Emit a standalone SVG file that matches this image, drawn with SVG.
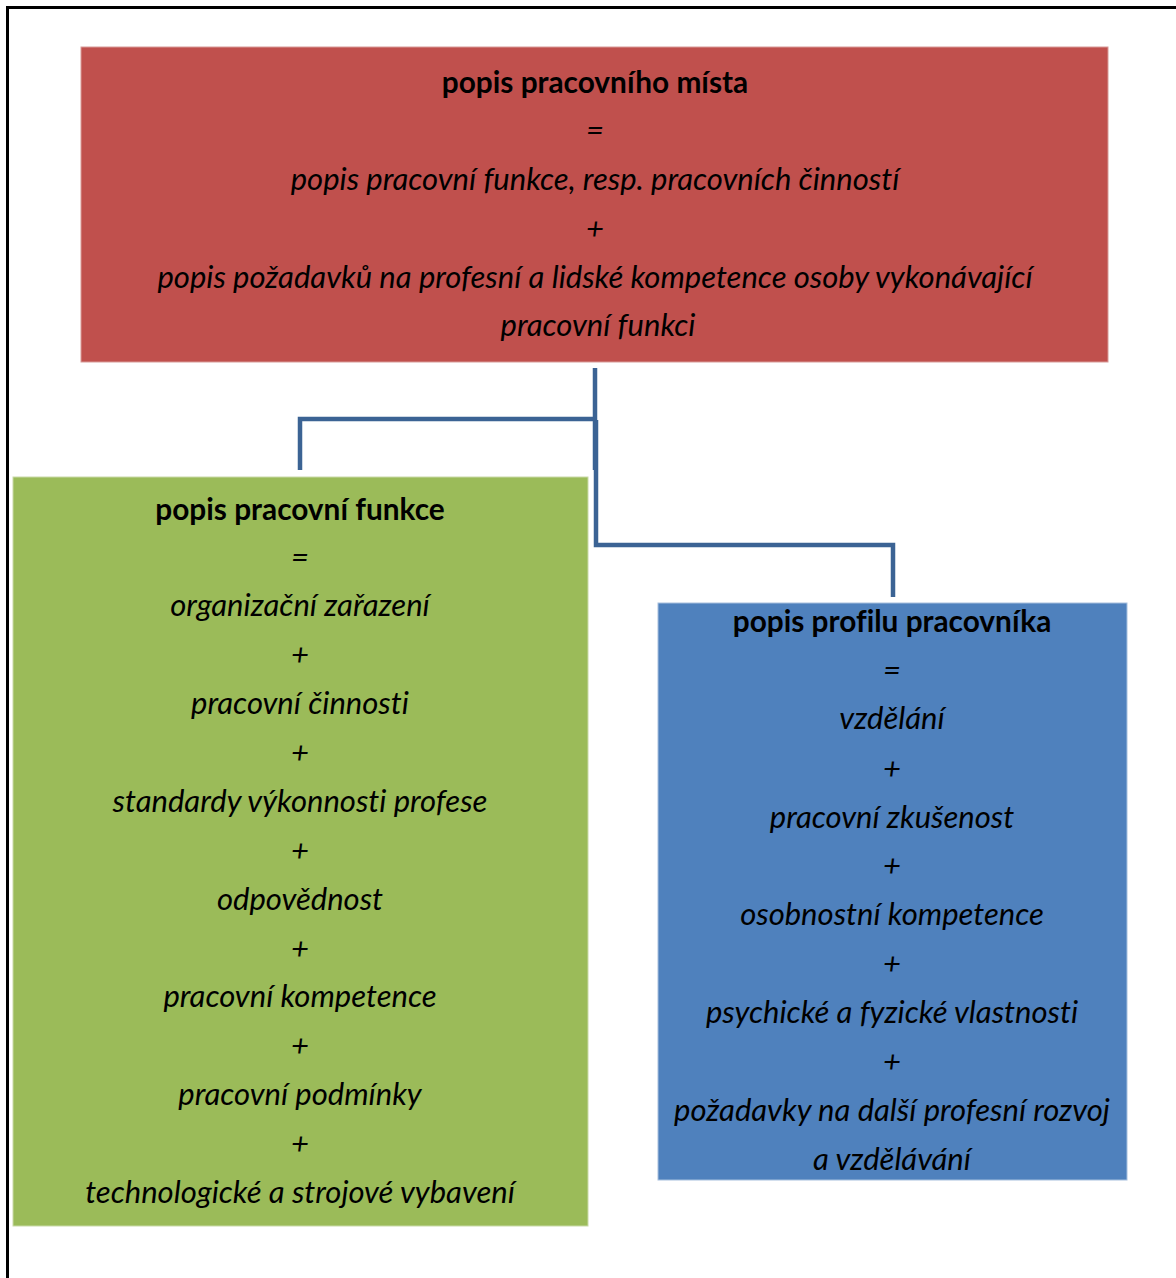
<svg xmlns="http://www.w3.org/2000/svg" width="1176" height="1278" viewBox="0 0 1176 1278">
<style>
text{font-family:Lato,"Open Sans","Liberation Sans",sans-serif;font-size:31px;fill:#000;text-anchor:middle;font-variant-ligatures:none;font-feature-settings:"liga" 0,"clig" 0}
.b{font-weight:bold;font-style:normal;font-size:29.8px}
.i{font-style:italic}
.con{fill:none;stroke:#3B6394;stroke-width:4.5}
</style>
<rect width="1176" height="1278" fill="#fff"/>
<path d="M7.5 1278 V7.5 H1176" fill="none" stroke="#000" stroke-width="3"/>
<g id="connectors">
<path class="con" d="M595 368 V470 M595 419 H300 V470"/>
<path class="con" d="M596 420 V545 H893 V597"/>
</g>
<g id="node-top">
<rect x="81" y="47" width="1027" height="315" fill="#C0504D" stroke="#D89A98" stroke-width="1"/>
<text class="b" x="595" y="93">popis pracovního místa</text>
<text class="i" x="595" y="141">=</text>
<text class="i" x="595" y="190">popis pracovní funkce, resp. pracovních činností</text>
<text class="i" x="595" y="239">+</text>
<text class="i" x="595" y="288">popis požadavků na profesní a lidské kompetence osoby vykonávající</text>
<text class="i" x="598" y="336">pracovní funkci</text>
</g>
<g id="node-left">
<rect x="13" y="477" width="575" height="749" fill="#9BBB59" stroke="#C9DAA8" stroke-width="1"/>
<text class="b" x="300" y="520">popis pracovní funkce</text>
<text class="i" x="300" y="568">=</text>
<text class="i" x="300" y="616">organizační zařazení</text>
<text class="i" x="300" y="665">+</text>
<text class="i" x="300" y="714">pracovní činnosti</text>
<text class="i" x="300" y="763">+</text>
<text class="i" x="300" y="812">standardy výkonnosti profese</text>
<text class="i" x="300" y="861">+</text>
<text class="i" x="300" y="910">odpovědnost</text>
<text class="i" x="300" y="959">+</text>
<text class="i" x="300" y="1007">pracovní kompetence</text>
<text class="i" x="300" y="1056">+</text>
<text class="i" x="300" y="1105">pracovní podmínky</text>
<text class="i" x="300" y="1154">+</text>
<text class="i" x="300" y="1203">technologické a strojové vybavení</text>
</g>
<g id="node-right">
<rect x="658" y="603" width="469" height="577" fill="#4F81BD" stroke="#A7C0DE" stroke-width="1"/>
<text class="b" x="892" y="632">popis profilu pracovníka</text>
<text class="i" x="892" y="681">=</text>
<text class="i" x="892" y="729">vzdělání</text>
<text class="i" x="892" y="779">+</text>
<text class="i" x="892" y="828">pracovní zkušenost</text>
<text class="i" x="892" y="876">+</text>
<text class="i" x="892" y="925">osobnostní kompetence</text>
<text class="i" x="892" y="974">+</text>
<text class="i" x="892" y="1023">psychické a fyzické vlastnosti</text>
<text class="i" x="892" y="1072">+</text>
<text class="i" x="892" y="1121">požadavky na další profesní rozvoj</text>
<text class="i" x="892" y="1170">a vzdělávání</text>
</g>
</svg>
